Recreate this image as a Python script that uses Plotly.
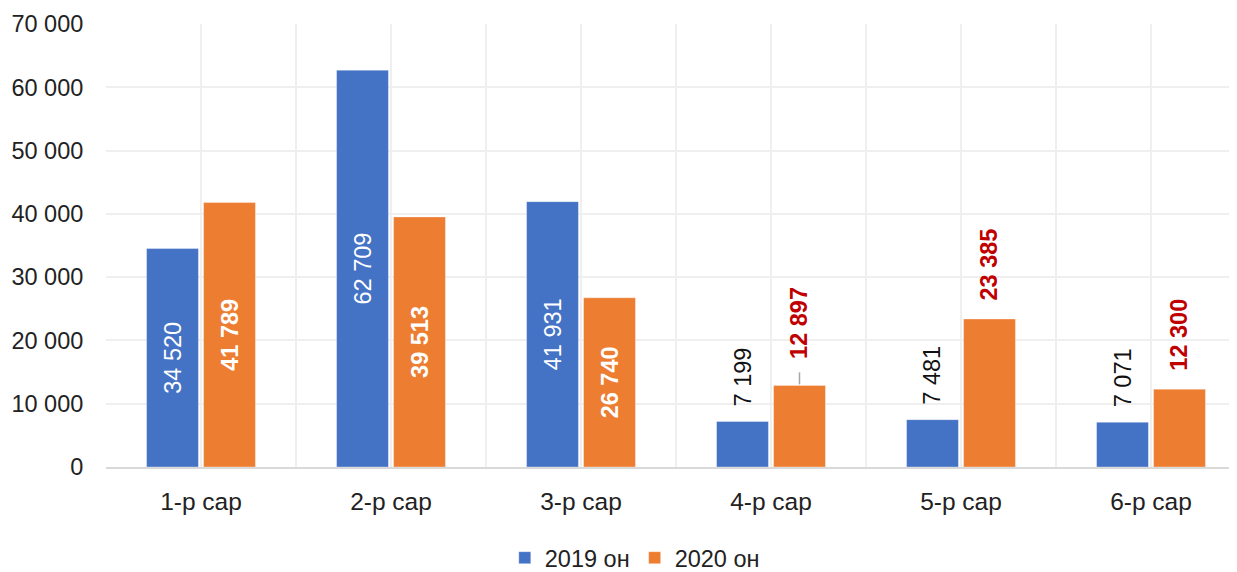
import plotly.graph_objects as go

months = ["1-р сар", "2-р сар", "3-р сар", "4-р сар", "5-р сар", "6-р сар"]
values_2019 = [34520, 62709, 41931, 7199, 7481, 7071]
values_2020 = [41789, 39513, 26740, 12897, 23385, 12300]
series_names = ["2019 он", "2020 он"]
y_ticks = [0, 10000, 20000, 30000, 40000, 50000, 60000, 70000]

BLUE = "#4472C4"
ORANGE = "#ED7D31"
RED = "#C00000"
FONT = "Liberation Sans, Arial, sans-serif"
FS = 23.5

# the page body adds an 8px margin, so the figure is sized to fit what is left
W, H = 1229, 564
LEFT = 98
x_idx = list(range(len(months)))
bargap = 0.4
half_slot = (1 - bargap) / 4   # distance from category centre to each bar centre
inside_limit = 25000            # tall bars carry their label inside


def fmt(v):
    return f"{v:,}".replace(",", " ")


fig = go.Figure()

for name, vals, color, bold in [(series_names[0], values_2019, BLUE, False),
                                (series_names[1], values_2020, ORANGE, True)]:
    txt = [(f"<b>{fmt(v)}</b>" if bold else fmt(v)) if v >= inside_limit else "" for v in vals]
    fig.add_trace(go.Bar(
        x=x_idx, y=vals, name=name,
        marker=dict(color=color, line=dict(color="rgba(255,255,255,0.35)", width=1)),
        text=txt, texttemplate="%{text}",
        textposition=["inside" if v >= inside_limit else "none" for v in vals],
        insidetextanchor="middle", textangle=-90,
        textfont=dict(color="white", size=FS, family=FONT),
        hoverinfo="skip",
    ))

# labels above short bars
for i, v in enumerate(values_2019):
    if v < inside_limit:
        fig.add_annotation(x=i - half_slot, y=v, text=fmt(v), textangle=-90,
                           showarrow=False, yanchor="bottom", yshift=13,
                           font=dict(size=FS, color="#111111", family=FONT))
for i, v in enumerate(values_2020):
    if v < inside_limit:
        shift = 24 if v == 12897 else 16
        fig.add_annotation(x=i + half_slot, y=v, text=f"<b>{fmt(v)}</b>", textangle=-90,
                           showarrow=False, yanchor="bottom", yshift=shift,
                           font=dict(size=FS, color=RED, family=FONT))
        if shift > 20:
            fig.add_shape(type="line", xref="x", yref="y", x0=i + half_slot, x1=i + half_slot,
                          ysizemode="pixel", yanchor=v, y0=1, y1=13,
                          line=dict(color="#a6a6a6", width=1.5))

fig.update_layout(
    width=W, height=H,
    margin=dict(l=LEFT, r=0, t=16, b=105),
    paper_bgcolor="white", plot_bgcolor="white",
    barmode="group", bargap=bargap, bargroupgap=0.09,
    separators=". ",
    font=dict(family=FONT, size=FS, color="#222222"),
    showlegend=True,
    legend=dict(orientation="h", xref="container", yref="container",
                x=0.51, y=0.025, xanchor="center", yanchor="middle",
                font=dict(size=FS), itemclick=False),
    xaxis=dict(
        range=[-0.5, (W - LEFT) / 190 - 0.5],
        tickmode="array", tickvals=x_idx, ticktext=months,
        tickfont=dict(size=24.5),
        showgrid=True, gridcolor="#efefef", gridwidth=1.5,
        minor=dict(tickmode="array", tickvals=[i - 0.5 for i in x_idx] + [len(months) - 0.5],
                   showgrid=True, gridcolor="#efefef", gridwidth=1.5),
        ticks="outside", ticklen=12, tickcolor="rgba(0,0,0,0)",
        showline=True, linecolor="#d9d9d9", linewidth=1.5,
        zeroline=False, fixedrange=True, automargin=False,
    ),
    yaxis=dict(
        range=[0, 70000], tickmode="array", tickvals=y_ticks, tickformat=",d",
        showgrid=True, gridcolor="#efefef", gridwidth=1.5,
        ticks="outside", ticklen=17, tickcolor="rgba(0,0,0,0)",
        showline=False, zeroline=False, fixedrange=True, automargin=False,
    ),
)

fig.write_html("out.html")
